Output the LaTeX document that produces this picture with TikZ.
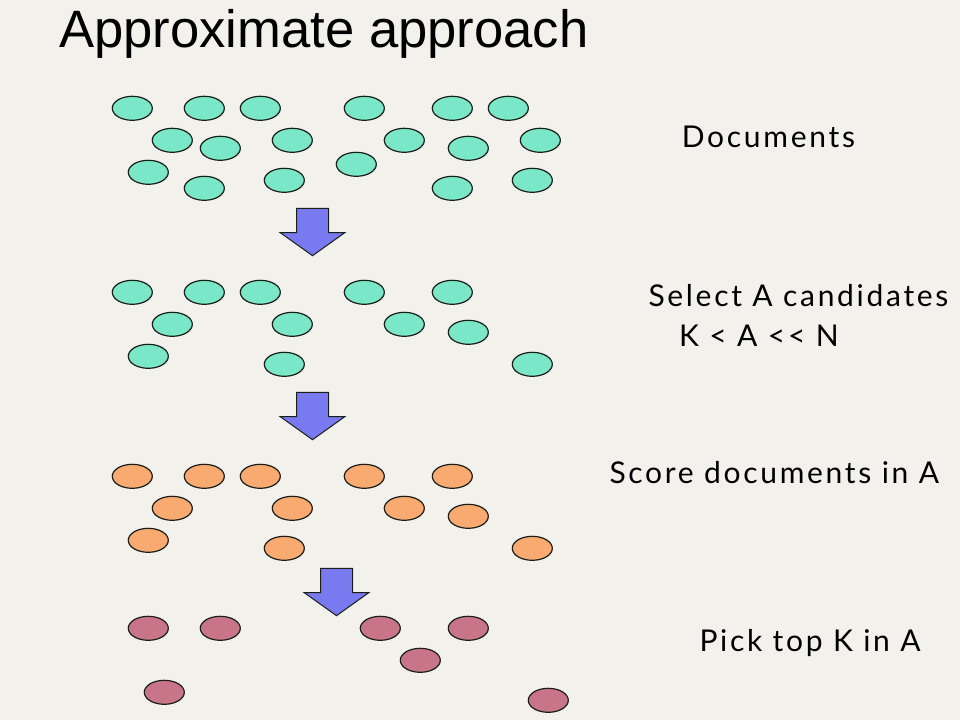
\documentclass[tikz,border=0pt]{standalone}
\usepackage{fontspec}
\setmainfont{Liberation Sans}
\newfontfamily\labelfont[LetterSpace=9]{Lato}
\usetikzlibrary{shapes.geometric}
\definecolor{bgc}{RGB}{243,241,236}
\definecolor{tealc}{RGB}{122,232,200}
\definecolor{orangec}{RGB}{248,170,112}
\definecolor{pinkc}{RGB}{200,117,135}
\definecolor{arrowc}{RGB}{122,122,240}
\definecolor{edgec}{RGB}{25,30,25}
\tikzset{
  doc/.style={ellipse, draw=edgec, line width=1.2pt, minimum width=40pt, minimum height=24pt, inner sep=0pt},
  tealdoc/.style={doc, fill=tealc},
  orangedoc/.style={doc, fill=orangec},
  pinkdoc/.style={doc, fill=pinkc},
  blockarrow/.style={draw=edgec, fill=arrowc, line width=1pt, line join=miter},
  lbl/.style={anchor=base west, inner sep=0pt, font=\labelfont\fontsize{30}{35}\selectfont},
}
\begin{document}
\begin{tikzpicture}[x=1pt, y=-1pt]
\fill[bgc] (0,0) rectangle (960,720);
\useasboundingbox (0,0) rectangle (960,720);
% title
\node[anchor=base west, inner sep=0pt, font=\fontsize{52.6}{60}\selectfont] (title) at (59,47.7) {Approximate approach};
% group 1: documents
\foreach \x/\y [count=\i] in {132.3/108.3, 204.3/108.3, 260.3/108.3, 364.3/108.3, 452.3/108.3, 508.3/108.3,
  172.3/140.3, 220.3/148.3, 292.3/140.3, 404.3/140.3, 468.3/148.3, 540.3/140.3,
  148.3/172.3, 204.3/188.3, 284.3/180.3, 356.3/164.3, 452.3/188.3, 532.3/180.3}
  \node[tealdoc] (d\i) at (\x,\y) {};
% group 2: candidates
\foreach \x/\y [count=\i] in {132.3/292.3, 204.3/292.3, 260.3/292.3, 364.3/292.3, 452.3/292.3,
  172.3/324.3, 292.3/324.3, 404.3/324.3, 468.3/332.3,
  148.3/356.3, 284.3/364.3, 532.3/364.3}
  \node[tealdoc] (c\i) at (\x,\y) {};
% group 3: scored
\foreach \x/\y [count=\i] in {132.3/476.3, 204.3/476.3, 260.3/476.3, 364.3/476.3, 452.3/476.3,
  172.3/508.3, 292.3/508.3, 404.3/508.3, 468.3/516.3,
  148.3/540.3, 284.3/548.3, 532.3/548.3}
  \node[orangedoc] (s\i) at (\x,\y) {};
% group 4: top K
\foreach \x/\y [count=\i] in {148.3/628.3, 220.3/628.3, 380.3/628.3, 468.3/628.3,
  420.3/660.3, 164.3/692.3, 548.3/700.3}
  \node[pinkdoc] (k\i) at (\x,\y) {};
% block arrows
\foreach \ax/\ay in {312.5/208.3, 312.5/392.3, 336.5/568.3}
  \draw[blockarrow] (\ax-16,\ay) -- (\ax+16,\ay) -- (\ax+16,\ay+24.4) -- (\ax+32.2,\ay+24.4)
     -- (\ax,\ay+47.4) -- (\ax-32.2,\ay+24.4) -- (\ax-16,\ay+24.4) -- cycle;
% labels
\node[lbl] (l1) at (681.7,147.7) {Documents};
\node[lbl] (l2) at (648.3,306.7) {Select A candidates};
\node[lbl] (l3) at (679,346.7) {K < A << N};
\node[lbl] (l4) at (609.3,483.3) {Score documents in A};
\node[lbl] (l5) at (699.3,651.7) {Pick top K in A};
\end{tikzpicture}
\end{document}
